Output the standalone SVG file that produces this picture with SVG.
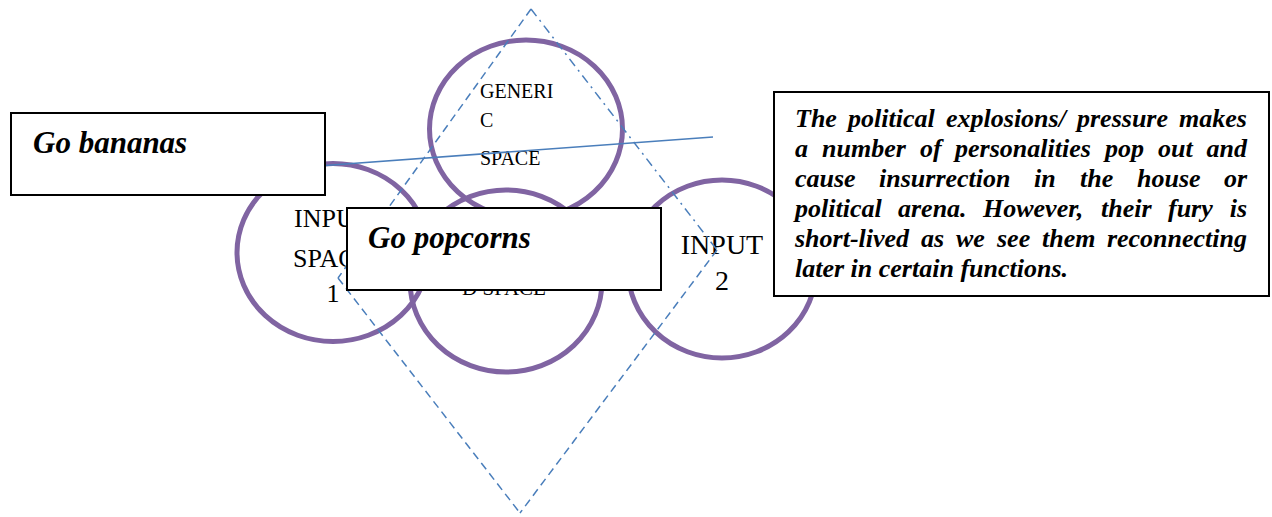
<svg xmlns="http://www.w3.org/2000/svg" width="1272" height="517" viewBox="0 0 1272 517">
  <style>
    .space { fill: none; stroke: #8064A2; stroke-width: 5; }
    .lbl { font-family: "Liberation Serif", "Times New Roman", serif; fill: #000; }
    .box { fill: #fff; stroke: #000; stroke-width: 2; }
    .bi { font-family: "Liberation Serif", "Times New Roman", serif; font-weight: bold; font-style: italic; fill: #000; }
    .dash { fill: none; stroke: #4A7EBB; stroke-width: 1.5; stroke-dasharray: 8 5; }
    .dashdot { fill: none; stroke: #4A7EBB; stroke-width: 1.5; stroke-dasharray: 9 5 2 5; }
    .solid { fill: none; stroke: #4A7EBB; stroke-width: 1.6; }
  </style>
  <rect width="1272" height="517" fill="#fff"/>

  <g id="generic-space">
    <ellipse class="space" cx="526" cy="129" rx="96.5" ry="89"/>
    <text class="lbl" font-size="20" x="480" y="98">GENERI</text>
    <text class="lbl" font-size="20" x="480" y="127">C</text>
    <text class="lbl" font-size="20" x="480" y="165">SPACE</text>
  </g>

  <g id="input-space-1">
    <ellipse class="space" cx="333" cy="252.5" rx="96" ry="89"/>
    <text class="lbl" font-size="26" x="294" y="227">INPUT</text>
    <text class="lbl" font-size="26" x="293" y="267">SPACE</text>
    <text class="lbl" font-size="26" x="333" y="302" text-anchor="middle">1</text>
  </g>

  <g id="input-space-2">
    <ellipse class="space" cx="722" cy="269" rx="94" ry="89"/>
    <text class="lbl" font-size="28" x="722" y="254" text-anchor="middle">INPUT</text>
    <text class="lbl" font-size="28" x="722" y="290" text-anchor="middle">2</text>
  </g>

  <g id="blended-space">
    <ellipse class="space" cx="506" cy="281" rx="96" ry="91"/>
    <text class="lbl" font-size="21" x="504" y="295" text-anchor="middle">D SPACE</text>
  </g>

  <g id="connectors">
    <line class="dash" x1="531" y1="9" x2="338" y2="278"/>
    <line class="dash" x1="338" y1="278" x2="520" y2="513"/>
    <line class="dash" x1="717" y1="250" x2="520" y2="513"/>
    <line class="dashdot" x1="531" y1="9" x2="717" y2="250"/>
    <line class="solid" x1="325" y1="165.5" x2="713" y2="137"/>
  </g>

  <g id="box-bananas">
    <rect class="box" x="11" y="113" width="314" height="82"/>
    <text class="bi" font-size="31" x="33" y="153">Go bananas</text>
  </g>

  <g id="box-popcorns">
    <rect class="box" x="347" y="208" width="314" height="82"/>
    <text class="bi" font-size="31" x="368" y="248">Go popcorns</text>
  </g>

  <g id="box-description">
    <rect class="box" x="774" y="92" width="495" height="204"/>
    <text class="bi" font-size="26" y="127"><tspan x="795">The</tspan><tspan x="848">political</tspan><tspan x="946">explosions/</tspan><tspan x="1077">pressure</tspan><tspan x="1247" text-anchor="end">makes</tspan></text>
    <text class="bi" font-size="26" y="157"><tspan x="795">a</tspan><tspan x="822">number</tspan><tspan x="920">of</tspan><tspan x="955">personalities</tspan><tspan x="1105">pop</tspan><tspan x="1158">out</tspan><tspan x="1247" text-anchor="end">and</tspan></text>
    <text class="bi" font-size="26" y="187"><tspan x="795">cause</tspan><tspan x="879">insurrection</tspan><tspan x="1034">in</tspan><tspan x="1080">the</tspan><tspan x="1137">house</tspan><tspan x="1247" text-anchor="end">or</tspan></text>
    <text class="bi" font-size="26" y="217"><tspan x="795">political</tspan><tspan x="898">arena.</tspan><tspan x="983">However,</tspan><tspan x="1101">their</tspan><tspan x="1168">fury</tspan><tspan x="1247" text-anchor="end">is</tspan></text>
    <text class="bi" font-size="26" y="247"><tspan x="795">short-lived</tspan><tspan x="921">as</tspan><tspan x="956">we</tspan><tspan x="997">see</tspan><tspan x="1042">them</tspan><tspan x="1247" text-anchor="end">reconnecting</tspan></text>
    <text class="bi" font-size="26" x="795" y="277">later in certain functions.</text>
  </g>
</svg>
